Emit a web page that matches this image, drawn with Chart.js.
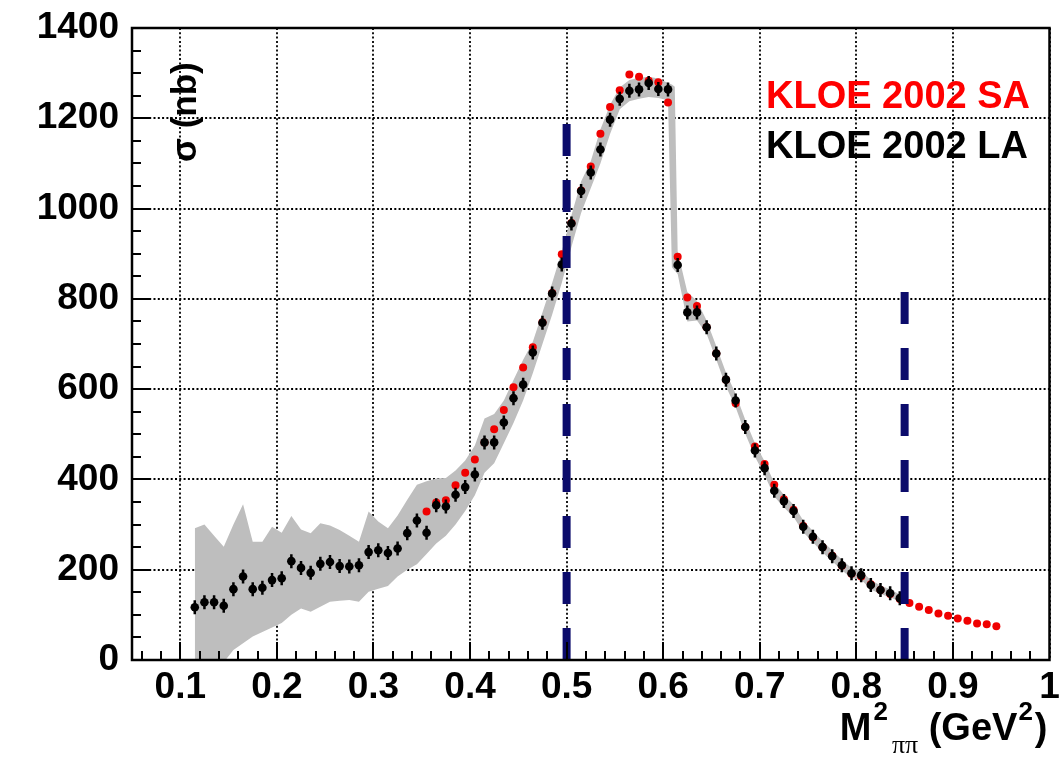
<!DOCTYPE html>
<html>
<head>
<meta charset="utf-8">
<script src="https://cdn.jsdelivr.net/npm/chart.js@4.4.0/dist/chart.umd.min.js"></script>
<style>
  html, body { margin: 0; padding: 0; background: #fff; }
  #wrap { width: 1059px; height: 763px; }
</style>
</head>
<body>
<div id="wrap"><canvas id="kloe" width="1059" height="763"></canvas></div>
<script>
// KLOE 2002: small angle (SA) vs large angle (LA) pi+pi- cross section

const xTicks = [0.1, 0.2, 0.3, 0.4, 0.5, 0.6, 0.7, 0.8, 0.9, 1.0];
const yTicks = [0, 200, 400, 600, 800, 1000, 1200, 1400];

// LA points (black), M^2 bin centres in GeV^2, sigma in nb
const laMass = [
  0.115, 0.125, 0.135, 0.145, 0.155, 0.165, 0.175, 0.185, 0.195,
  0.205, 0.215, 0.225, 0.235, 0.245, 0.255, 0.265, 0.275, 0.285, 0.295,
  0.305, 0.315, 0.325, 0.335, 0.345, 0.355, 0.365, 0.375, 0.385, 0.395,
  0.405, 0.415, 0.425, 0.435, 0.445, 0.455, 0.465, 0.475, 0.485, 0.495,
  0.505, 0.515, 0.525, 0.535, 0.545, 0.555, 0.565, 0.575, 0.585, 0.595,
  0.605, 0.615, 0.625, 0.635, 0.645, 0.655, 0.665, 0.675, 0.685, 0.695,
  0.705, 0.715, 0.725, 0.735, 0.745, 0.755, 0.765, 0.775, 0.785, 0.795,
  0.805, 0.815, 0.825, 0.835, 0.845
];
const laSigma = [
  117, 128, 128, 120, 157, 185, 157, 160, 177,
  181, 219, 204, 193, 213, 217, 208, 207, 210, 239,
  243, 237, 247, 281, 309, 282, 343, 340, 366, 383,
  411, 482, 482, 526, 580, 610, 681, 747, 812, 876,
  967, 1039, 1080, 1131, 1197, 1243, 1261, 1264, 1278, 1265,
  1264, 875, 770, 770, 737, 679, 621, 575, 516, 464,
  425, 375, 352, 330, 295, 273, 250, 230, 210, 192,
  188, 166, 155, 148, 137
];

// gray band vertices (LA bins plus two extra points on the steep drop)
const bandMass = [
  0.115, 0.125, 0.135, 0.145, 0.155, 0.165, 0.175, 0.185, 0.195,
  0.205, 0.215, 0.225, 0.235, 0.245, 0.255, 0.265, 0.275, 0.285, 0.295,
  0.305, 0.315, 0.325, 0.335, 0.345, 0.355, 0.365, 0.375, 0.385, 0.395,
  0.405, 0.415, 0.425, 0.435, 0.445, 0.455, 0.465, 0.475, 0.485, 0.495,
  0.505, 0.515, 0.525, 0.535, 0.545, 0.555, 0.565, 0.575, 0.585, 0.595,
  0.605, 0.609, 0.612, 0.615, 0.625, 0.635, 0.645, 0.655, 0.665, 0.675, 0.685, 0.695,
  0.705, 0.715, 0.725, 0.735, 0.745, 0.755, 0.765, 0.775, 0.785, 0.795,
  0.805, 0.815, 0.825, 0.835, 0.845
];
const bandHigh = [
  292, 300, 275, 251, 300, 345, 262, 262, 295,
  282, 319, 289, 281, 303, 298, 288, 275, 262, 329,
  307, 292, 320, 355, 388, 396, 402, 403, 420, 442,
  475, 535, 545, 575, 620, 665, 705, 770, 835, 905,
  985, 1060, 1105, 1175, 1230, 1268, 1285, 1290, 1292, 1288,
  1278, 1275, 1270, 905, 815, 795, 752, 695, 637, 590, 532, 480,
  440, 392, 366, 344, 309, 286, 263, 243, 222, 204,
  197, 177, 165, 157, 145
];
const bandLow = [
  -60, -50, -30, -5, 22, 37, 52, 62, 72,
  82, 100, 114, 107, 118, 129, 131, 133, 129, 151,
  158, 164, 185, 200, 212, 235, 258, 275, 300, 330,
  365, 415, 436, 480, 525, 575, 635, 700, 765, 835,
  915, 990, 1045, 1100, 1165, 1220, 1238, 1243, 1247, 1245,
  1240, 870, 862, 855, 750, 752, 722, 665, 606, 560, 501, 450,
  410, 362, 338, 317, 283, 261, 238, 219, 199, 181,
  178, 156, 146, 139, 129
];

// SA points (red)
const saMass = [
  0.355, 0.365, 0.375, 0.385, 0.395, 0.405, 0.415, 0.425, 0.435, 0.445,
  0.455, 0.465, 0.475, 0.485, 0.495, 0.505, 0.515, 0.525, 0.535, 0.545,
  0.555, 0.565, 0.575, 0.585, 0.595, 0.605, 0.615, 0.625, 0.635, 0.645,
  0.655, 0.665, 0.675, 0.685, 0.695, 0.705, 0.715, 0.725, 0.735, 0.745,
  0.755, 0.765, 0.775, 0.785, 0.795, 0.805, 0.815, 0.825, 0.835, 0.845,
  0.855, 0.865, 0.875, 0.885, 0.895, 0.905, 0.915, 0.925, 0.935, 0.945
];
const saSigma = [
  329, 349, 354, 387, 415, 444, 482, 511, 554, 604,
  648, 693, 748, 813, 899, 968, 1040, 1093, 1166, 1225,
  1262, 1297, 1292, 1283, 1280, 1235, 893, 803, 784, 737,
  679, 621, 569, 516, 473, 434, 388, 356, 333, 297,
  272, 250, 231, 209, 191, 185, 168, 155, 146, 135,
  126, 118, 111, 103, 98, 92, 87, 81, 79, 75
];

// dashed cut lines
const cutMass = [0.5, 0.85];
const cutTop = [1190, 815];

const pts = (xs, ys) => xs.map((x, i) => ({ x: x, y: ys[i] }));
const font = (size, weight) => ({ family: '"Liberation Sans", Arial, sans-serif', size: size, weight: weight });

const cutLines = cutMass.map((m, i) => ({
  type: 'line',
  data: [{ x: m, y: 0 }, { x: m, y: cutTop[i] }],
  borderColor: '#0b0b6b',
  borderWidth: 8,
  borderDash: [32, 24],
  borderCapStyle: 'butt',
  pointRadius: 0,
  showLine: true,
  fill: false,
  order: 0
}));

// grid, frame, inward ticks and the text labels
const decor = {
  id: 'decor',
  beforeDatasetsDraw(chart) {
    const { ctx, chartArea: a, scales: { x, y } } = chart;
    ctx.save();
    ctx.strokeStyle = '#000';
    ctx.lineWidth = 1.8;
    ctx.setLineDash([2, 2.3]);
    ctx.beginPath();
    xTicks.forEach(v => {
      const px = Math.round(x.getPixelForValue(v));
      ctx.moveTo(px, a.top); ctx.lineTo(px, a.bottom);
    });
    yTicks.forEach(v => {
      const py = Math.round(y.getPixelForValue(v));
      ctx.moveTo(a.left, py); ctx.lineTo(a.right, py);
    });
    ctx.stroke();
    ctx.restore();
  },
  afterDatasetsDraw(chart) {
    const { ctx, chartArea: a, scales: { x, y } } = chart;
    ctx.save();
    ctx.strokeStyle = '#000';
    ctx.setLineDash([]);
    ctx.lineWidth = 2;
    ctx.beginPath();
    for (let k = 3; k < 50; k++) {
      const v = k * 0.02;
      const px = Math.round(x.getPixelForValue(v));
      const len = k % 5 === 0 ? 18 : 9;
      ctx.moveTo(px, a.bottom); ctx.lineTo(px, a.bottom - len);
    }
    for (let k = 1; k < 28; k++) {
      const v = k * 50;
      const py = Math.round(y.getPixelForValue(v));
      const len = v % 200 === 0 ? 18 : 9;
      ctx.moveTo(a.left, py); ctx.lineTo(a.left + len, py);
    }
    ctx.stroke();
    ctx.lineWidth = 2.5;
    ctx.strokeRect(a.left, a.top, a.right - a.left, a.bottom - a.top);
    ctx.restore();
  },
  afterDraw(chart) {
    const { ctx, chartArea: a } = chart;
    ctx.save();
    ctx.textBaseline = 'alphabetic';
    ctx.textAlign = 'left';

    // legend text
    ctx.font = 'bold 38px "Liberation Sans", Arial, sans-serif';
    ctx.fillStyle = '#ff0000';
    ctx.fillText('KLOE 2002 SA', 766, 108);
    ctx.fillStyle = '#000';
    ctx.fillText('KLOE 2002 LA', 766, 158);

    // y title, rotated
    ctx.save();
    ctx.translate(196, 162);
    ctx.rotate(-Math.PI / 2);
    ctx.font = 'bold 35px "Liberation Sans", Arial, sans-serif';
    ctx.fillText('\u03c3 (nb)', 0, 0);
    ctx.restore();

    // x title: M^2_{pi pi} (GeV^2)
    const big = 'bold 38px "Liberation Sans", Arial, sans-serif';
    const sup = 'bold 26px "Liberation Sans", Arial, sans-serif';
    const sub = '26px "Liberation Serif", "Times New Roman", serif';
    const parts = [
      { t: 'M', f: big, y: 740, gap: 2 },
      { t: '2', f: sup, y: 720, gap: 4 },
      { t: '\u03c0\u03c0', f: sub, y: 753, gap: 0 },
      { t: ' (GeV', f: big, y: 740, gap: 1 },
      { t: '2', f: sup, y: 720, gap: 2 },
      { t: ')', f: big, y: 740, gap: 0 }
    ];
    let total = 0;
    parts.forEach(p => { ctx.font = p.f; p.w = ctx.measureText(p.t).width; total += p.w + p.gap; });
    let cx = a.right - 2 - total;
    parts.forEach(p => { ctx.font = p.f; ctx.fillText(p.t, cx, p.y); cx += p.w + p.gap; });
    ctx.restore();
  }
};

const ctx = document.getElementById('kloe').getContext('2d');
const chart = new Chart(ctx, {
  type: 'line',
  data: {
    datasets: [
      ...cutLines,
      {
        label: 'LA errors',
        data: pts(laMass, laSigma),
        showLine: false,
        pointStyle: 'line',
        rotation: 90,
        pointRadius: 7,
        pointBorderWidth: 2.5,
        borderColor: '#000',
        order: 1
      },
      {
        label: 'KLOE 2002 LA',
        data: pts(laMass, laSigma),
        showLine: false,
        pointStyle: 'circle',
        pointRadius: 4.3,
        pointBorderWidth: 0,
        backgroundColor: '#000',
        borderColor: '#000',
        order: 2
      },
      {
        label: 'KLOE 2002 SA',
        data: pts(saMass, saSigma),
        showLine: false,
        pointStyle: 'circle',
        pointRadius: 4,
        pointBorderWidth: 0,
        backgroundColor: '#f00000',
        borderColor: '#f00000',
        order: 3
      },
      {
        label: 'band high',
        data: pts(bandMass, bandHigh),
        borderColor: 'rgba(0,0,0,0)',
        borderWidth: 0,
        backgroundColor: '#bebebe',
        pointRadius: 0,
        tension: 0,
        fill: '+1',
        order: 4
      },
      {
        label: 'band low',
        data: pts(bandMass, bandLow),
        borderColor: 'rgba(0,0,0,0)',
        borderWidth: 0,
        pointRadius: 0,
        tension: 0,
        fill: false,
        order: 5
      }
    ]
  },
  options: {
    responsive: false,
    animation: false,
    devicePixelRatio: 1,
    layout: { padding: { top: 28, right: 7, left: 0, bottom: 0 } },
    plugins: { legend: { display: false }, tooltip: { enabled: false } },
    scales: {
      x: {
        type: 'linear',
        min: 0.05,
        max: 1.0,
        afterBuildTicks: s => { s.ticks = xTicks.map(v => ({ value: v })); },
        afterFit: s => { s.height = 103; s.paddingLeft = 0; s.paddingRight = 0; },
        grid: { display: false, drawTicks: false },
        border: { display: false },
        ticks: {
          autoSkip: false, maxRotation: 0, padding: 6, color: '#000',
          font: font(37, 'bold'),
          callback: v => String(Math.round(v * 10) / 10)
        }
      },
      y: {
        min: 0,
        max: 1400,
        afterBuildTicks: s => { s.ticks = yTicks.map(v => ({ value: v })); },
        afterFit: s => { s.width = 132; s.paddingTop = 0; s.paddingBottom = 0; },
        grid: { display: false, drawTicks: false },
        border: { display: false },
        ticks: {
          autoSkip: false, padding: 13, color: '#000',
          font: font(37, 'bold'),
          callback: v => String(v)
        }
      }
    }
  },
  plugins: [decor]
});
</script>
</body>
</html>
